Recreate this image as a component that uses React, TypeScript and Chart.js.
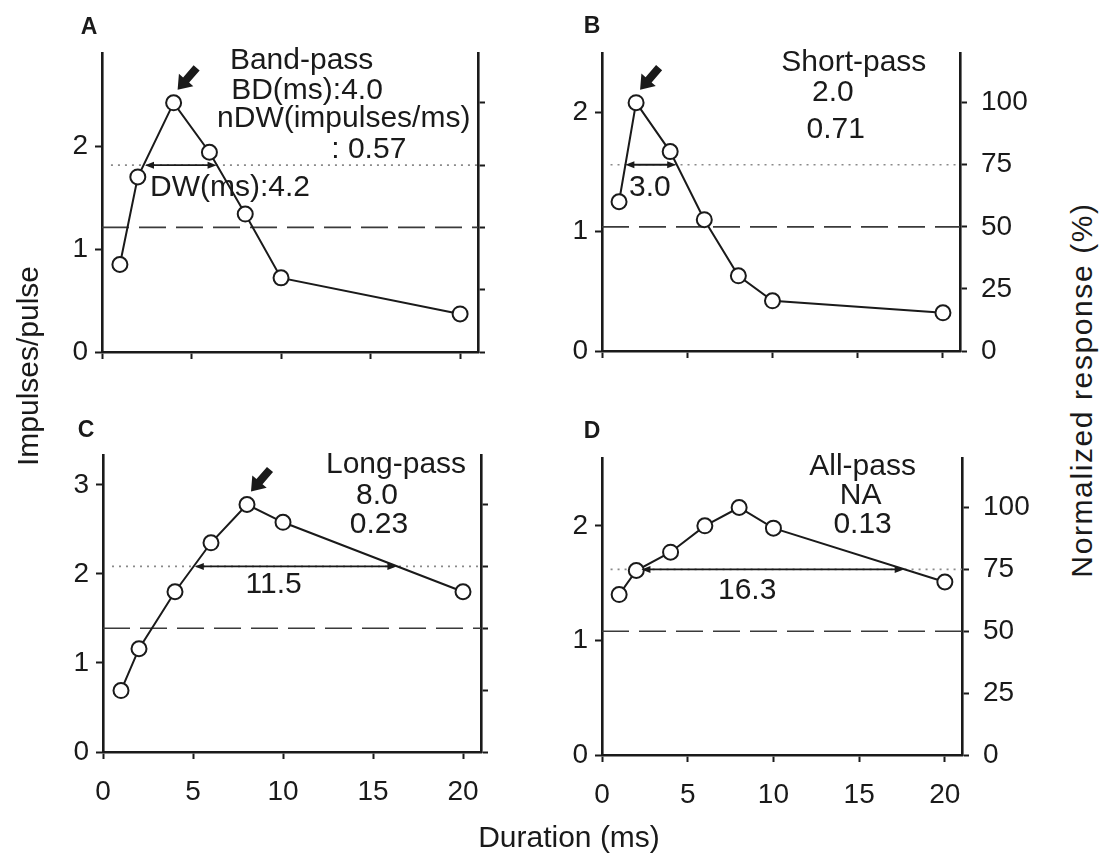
import React, { useEffect, useRef } from "react";
import { Chart, registerables } from "chart.js";

Chart.register(...registerables);

// ---------- data ----------
const durations = [1, 2, 4, 6, 8, 10, 20];
const bandPass = [0.85, 1.7, 2.42, 1.94, 1.34, 0.72, 0.37];
const shortPass = [1.25, 2.08, 1.67, 1.1, 0.63, 0.42, 0.32];
const longPass = [0.69, 1.16, 1.8, 2.35, 2.78, 2.58, 1.8];
const allPass = [1.4, 1.61, 1.77, 2.0, 2.16, 1.98, 1.51];

const xTicks = [0, 5, 10, 15, 20];
const pctTicks = [0, 25, 50, 75, 100];
const leftTicksAB = [0, 1, 2];
const leftTicksC = [0, 1, 2, 3];
const leftTicksD = [0, 1, 2];

const dottedPct = 75;
const dashedPct = 50;

const dwA = [2.4, 6.4];
const dwB = [1.37, 4.35];
const dwC = [5.1, 16.3];
const dwD = [2.3, 17.6];

const INK = "#1a1a1a";
const FONT = "'Liberation Sans', Arial, Helvetica, sans-serif";

type Note = { text: string; x: number; y: number; align: CanvasTextAlign };

interface PanelCfg {
  letter: string;
  values: number[];
  leftTicks: number[];
  dw: number[];
  best: number | null;
  showX: boolean;
  showRight: boolean;
  box: { left: number; top: number; width: number; height: number };
  area: { left: number; top: number; right: number; bottom: number };
  letterPos: [number, number];
  notes: Note[];
}

const panels: PanelCfg[] = [
  {
    letter: "A",
    values: bandPass,
    leftTicks: leftTicksAB,
    dw: dwA,
    best: 2,
    showX: false,
    showRight: false,
    box: { left: 40, top: 0, width: 515, height: 410 },
    area: { left: 102, top: 53, right: 478, bottom: 352 },
    letterPos: [89, 26],
    notes: [
      { text: "Band-pass", x: 11.15, y: 113.7, align: "center" },
      { text: "BD(ms):4.0", x: 11.45, y: 101.6, align: "center" },
      { text: "nDW(impulses/ms)", x: 13.5, y: 90.3, align: "center" },
      { text: ": 0.57", x: 14.9, y: 77.8, align: "center" },
      { text: "DW(ms):4.2", x: 2.68, y: 62.5, align: "left" },
    ],
  },
  {
    letter: "B",
    values: shortPass,
    leftTicks: leftTicksAB,
    dw: dwB,
    best: 1,
    showX: false,
    showRight: true,
    box: { left: 555, top: 0, width: 485, height: 410 },
    area: { left: 602, top: 53, right: 960, bottom: 351 },
    letterPos: [592, 25],
    notes: [
      { text: "Short-pass", x: 14.77, y: 112.8, align: "center" },
      { text: "2.0", x: 13.54, y: 100.7, align: "center" },
      { text: "0.71", x: 13.71, y: 85.9, align: "center" },
      { text: "3.0", x: 2.81, y: 62.6, align: "center" },
    ],
  },
  {
    letter: "C",
    values: longPass,
    leftTicks: leftTicksC,
    dw: dwC,
    best: 4,
    showX: true,
    showRight: false,
    box: { left: 40, top: 410, width: 515, height: 449 },
    area: { left: 103, top: 455, right: 481, bottom: 752 },
    letterPos: [86, 429],
    notes: [
      { text: "Long-pass", x: 16.28, y: 112.9, align: "center" },
      { text: "8.0", x: 15.22, y: 100.4, align: "center" },
      { text: "0.23", x: 15.33, y: 88.3, align: "center" },
      { text: "11.5", x: 9.48, y: 64.1, align: "center" },
    ],
  },
  {
    letter: "D",
    values: allPass,
    leftTicks: leftTicksD,
    dw: dwD,
    best: null,
    showX: true,
    showRight: true,
    box: { left: 555, top: 410, width: 485, height: 449 },
    area: { left: 602, top: 458, right: 962, bottom: 755 },
    letterPos: [592, 430],
    notes: [
      { text: "All-pass", x: 15.2, y: 113.3, align: "center" },
      { text: "NA", x: 15.09, y: 101.6, align: "center" },
      { text: "0.13", x: 15.2, y: 89.6, align: "center" },
      { text: "16.3", x: 8.47, y: 63.1, align: "center" },
    ],
  },
];

function drawFatArrow(ctx: CanvasRenderingContext2D, tx: number, ty: number, hx: number, hy: number) {
  const dx = hx - tx;
  const dy = hy - ty;
  const len = Math.hypot(dx, dy);
  const ux = dx / len;
  const uy = dy / len;
  const nx = -uy;
  const ny = ux;
  const hl = 13;
  const hw = 9.5;
  const sw = 4;
  const bx = hx - ux * hl;
  const by = hy - uy * hl;
  ctx.beginPath();
  ctx.moveTo(tx + nx * sw, ty + ny * sw);
  ctx.lineTo(bx + nx * sw, by + ny * sw);
  ctx.lineTo(bx + nx * hw, by + ny * hw);
  ctx.lineTo(hx, hy);
  ctx.lineTo(bx - nx * hw, by - ny * hw);
  ctx.lineTo(bx - nx * sw, by - ny * sw);
  ctx.lineTo(tx - nx * sw, ty - ny * sw);
  ctx.closePath();
  ctx.fill();
}

const annotPlugin = {
  id: "annot",
  afterDatasetsDraw(chart: any, _args: any, opts: any) {
    const cfg: PanelCfg = opts.cfg;
    if (!cfg) return;
    const ctx: CanvasRenderingContext2D = chart.ctx;
    const xs = chart.scales.x;
    const yL = chart.scales.y;
    const yR = chart.scales.yR;
    ctx.save();
    ctx.fillStyle = INK;
    ctx.strokeStyle = INK;

    // DW double arrow at 75 %
    const y75 = yR.getPixelForValue(dottedPct);
    const x1 = xs.getPixelForValue(cfg.dw[0]);
    const x2 = xs.getPixelForValue(cfg.dw[1]);
    ctx.lineWidth = 1.8;
    ctx.beginPath();
    ctx.moveTo(x1 + 4, y75);
    ctx.lineTo(x2 - 4, y75);
    ctx.stroke();
    const ah = 9;
    const aw = 3.5;
    ctx.beginPath();
    ctx.moveTo(x1, y75);
    ctx.lineTo(x1 + ah, y75 - aw);
    ctx.lineTo(x1 + ah, y75 + aw);
    ctx.closePath();
    ctx.fill();
    ctx.beginPath();
    ctx.moveTo(x2, y75);
    ctx.lineTo(x2 - ah, y75 - aw);
    ctx.lineTo(x2 - ah, y75 + aw);
    ctx.closePath();
    ctx.fill();

    // best-duration marker
    if (cfg.best !== null) {
      const px = xs.getPixelForValue(durations[cfg.best]);
      const py = yL.getPixelForValue(cfg.values[cfg.best]);
      drawFatArrow(ctx, px + 23, py - 35, px + 4, py - 13);
    }

    // notes
    ctx.font = `30px ${FONT}`;
    ctx.textBaseline = "alphabetic";
    for (const n of cfg.notes) {
      ctx.textAlign = n.align;
      ctx.fillText(n.text, xs.getPixelForValue(n.x), yR.getPixelForValue(n.y));
    }
    ctx.restore();
  },
};

function Panel({ cfg }: { cfg: PanelCfg }) {
  const ref = useRef<HTMLCanvasElement | null>(null);
  useEffect(() => {
    if (!ref.current) return;
    const { box, area } = cfg;
    const leftMax = Math.max(...cfg.values) * 1.2;
    const gridOpts = {
      display: true,
      drawOnChartArea: false,
      drawTicks: true,
      tickLength: 7,
      tickWidth: 2,
      tickColor: INK,
      color: INK,
    };
    const borderOpts = { display: true, color: INK, width: 2.6 };
    const chart = new Chart(ref.current, {
      type: "line",
      data: {
        datasets: [
          {
            data: durations.map((d, i) => ({ x: d, y: cfg.values[i] })),
            yAxisID: "y",
            borderColor: INK,
            borderWidth: 2,
            pointRadius: 7.5,
            pointBackgroundColor: "#ffffff",
            pointBorderColor: INK,
            pointBorderWidth: 2,
            tension: 0,
          },
          {
            data: [
              { x: 0.5, y: dottedPct },
              { x: 21, y: dottedPct },
            ],
            yAxisID: "yR",
            borderColor: "#8a8a8a",
            borderWidth: 1.6,
            borderDash: [2, 5],
            pointRadius: 0,
          },
          {
            data: [
              { x: 0, y: dashedPct },
              { x: 21, y: dashedPct },
            ],
            yAxisID: "yR",
            borderColor: "#3a3a3a",
            borderWidth: 1.6,
            borderDash: [27, 10],
            pointRadius: 0,
          },
        ],
      } as any,
      options: {
        responsive: false,
        animation: false,
        devicePixelRatio: 1,
        layout: { padding: { top: area.top - box.top, left: 0, right: 0, bottom: 0 } },
        plugins: {
          legend: { display: false },
          tooltip: { enabled: false },
          annot: { cfg },
        } as any,
        scales: {
          x: {
            type: "linear",
            position: "bottom",
            min: 0,
            max: 21,
            afterBuildTicks: (s: any) => {
              s.ticks = xTicks.map((v) => ({ value: v }));
            },
            afterFit: (s: any) => {
              s.height = box.top + box.height - area.bottom;
            },
            grid: gridOpts,
            border: borderOpts,
            ticks: {
              display: cfg.showX,
              color: INK,
              font: { family: FONT, size: 28 },
              padding: 16,
              maxRotation: 0,
              autoSkip: false,
            },
          },
          y: {
            type: "linear",
            position: "left",
            min: 0,
            max: leftMax,
            afterBuildTicks: (s: any) => {
              s.ticks = cfg.leftTicks.map((v) => ({ value: v }));
            },
            afterFit: (s: any) => {
              s.width = area.left - box.left;
            },
            grid: gridOpts,
            border: borderOpts,
            ticks: {
              color: INK,
              font: { family: FONT, size: 28 },
              padding: 7,
            },
          },
          yR: {
            type: "linear",
            position: "right",
            min: 0,
            max: 120,
            afterBuildTicks: (s: any) => {
              s.ticks = pctTicks.map((v) => ({ value: v }));
            },
            afterFit: (s: any) => {
              s.width = box.left + box.width - area.right;
            },
            grid: gridOpts,
            border: borderOpts,
            ticks: {
              display: cfg.showRight,
              color: INK,
              font: { family: FONT, size: 28 },
              padding: 14,
            },
          },
        },
      } as any,
      plugins: [annotPlugin as any],
    });
    return () => chart.destroy();
  }, [cfg]);

  return (
    <>
      <canvas
        ref={ref}
        width={cfg.box.width}
        height={cfg.box.height}
        style={{
          position: "absolute",
          left: cfg.box.left,
          top: cfg.box.top,
          width: cfg.box.width,
          height: cfg.box.height,
        }}
      />
      <div
        style={{
          position: "absolute",
          left: cfg.letterPos[0],
          top: cfg.letterPos[1],
          transform: "translate(-50%, -50%)",
          font: `bold 23px ${FONT}`,
          color: INK,
          lineHeight: 1,
        }}
      >
        {cfg.letter}
      </div>
    </>
  );
}

const titleStyle: React.CSSProperties = {
  position: "absolute",
  font: `30px ${FONT}`,
  color: INK,
  whiteSpace: "nowrap",
  lineHeight: 1,
};

export default function App() {
  return (
    <div
      style={{
        position: "absolute",
        left: 0,
        top: 0,
        width: 1109,
        height: 859,
        background: "#ffffff",
        overflow: "hidden",
      }}
    >
      {panels.map((p) => (
        <Panel key={p.letter} cfg={p} />
      ))}
      <div
        style={{
          ...titleStyle,
          left: 28,
          top: 366,
          transform: "translate(-50%, -50%) rotate(-90deg)",
        }}
      >
        Impulses/pulse
      </div>
      <div
        style={{
          ...titleStyle,
          left: 1082,
          top: 390,
          letterSpacing: "1.6px",
          transform: "translate(-50%, -50%) rotate(-90deg)",
        }}
      >
        Normalized response (%)
      </div>
      <div
        style={{
          ...titleStyle,
          left: 569,
          top: 837,
          transform: "translate(-50%, -50%)",
        }}
      >
        Duration (ms)
      </div>
    </div>
  );
}
